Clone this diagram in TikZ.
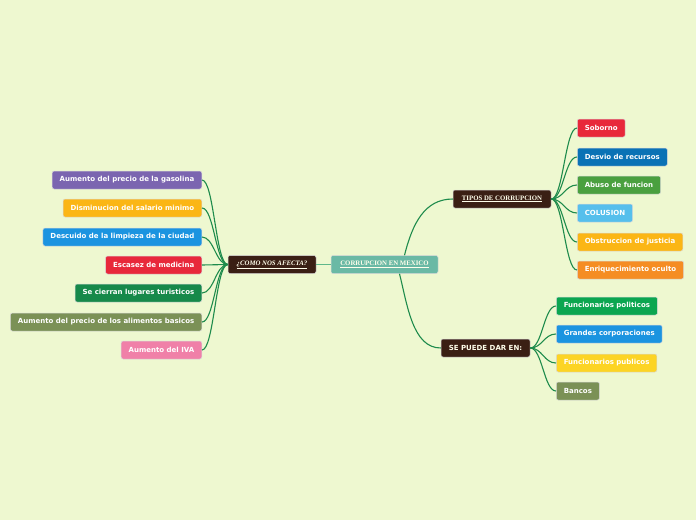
\documentclass[tikz,border=0pt]{standalone}
\usepackage{fontspec}
\setmainfont{DejaVu Sans}
\newfontfamily\hubfont{Liberation Serif}
\usetikzlibrary{positioning}
\definecolor{bgcolor}{HTML}{EEF8D0}
\definecolor{linkgreen}{HTML}{1E8B4C}
\definecolor{lightlink}{HTML}{5FB88A}
\definecolor{darkbrown}{HTML}{3A1F14}
\definecolor{tealbox}{HTML}{6AB9A5}
\definecolor{cpurple}{HTML}{7B65B0}
\definecolor{cyellow}{HTML}{FBB615}
\definecolor{cblue}{HTML}{1B94E0}
\definecolor{cred}{HTML}{E8283A}
\definecolor{cgreen}{HTML}{16894A}
\definecolor{colive}{HTML}{7B9156}
\definecolor{cpink}{HTML}{F080A8}
\definecolor{cnavy}{HTML}{0A72B5}
\definecolor{cgrass}{HTML}{4AA03F}
\definecolor{csky}{HTML}{56BFEC}
\definecolor{corange}{HTML}{F58D23}
\definecolor{cemerald}{HTML}{0BA650}
\definecolor{cgold}{HTML}{FCD424}
\tikzset{
  leaf/.style={draw=white!70!gray, line width=0.5pt, rounded corners=2pt, text=white, minimum height=18pt, inner xsep=7.5pt, inner ysep=0pt, font=\bfseries\fontsize{7}{8}\selectfont},
  hub/.style={draw=white!70!gray, line width=0.5pt, rounded corners=2pt, fill=darkbrown, text=white!92!yellow, minimum height=18pt, inner xsep=7pt, inner ysep=0pt, font=\hubfont\bfseries\fontsize{6.8}{8}\selectfont},
  branch/.style={draw=linkgreen, line width=1.1pt},
  stem/.style={draw=lightlink, line width=1.1pt}
}

\begin{document}
\begin{tikzpicture}[x=1pt, y=-1pt]
  \useasboundingbox[fill=bgcolor] (0,0) rectangle (696,520);

  % main topic and hubs
  \node[hub, fill=tealbox, minimum width=107pt] (centro) at (384.5,264.5) {\underline{CORRUPCION EN MEXICO}};
  \node[hub, minimum width=88pt] (afecta) at (272,264.5) {\textit{\underline{¿COMO NOS AFECTA?}}};
  \node[hub, minimum width=98pt] (tipos) at (502,199) {\underline{TIPOS DE CORRUPCION}};
  \node[hub, font=\bfseries\fontsize{7}{8}\selectfont, minimum width=89pt] (puede) at (485.5,348) {SE PUEDE DAR EN:};

  % effects
  \node[leaf, fill=cpurple, anchor=east] (gasolina) at (202,180) {Aumento del precio de la gasolina};
  \node[leaf, fill=cyellow, anchor=east] (salario) at (202,208) {Disminucion del salario minimo};
  \node[leaf, fill=cblue, anchor=east] (limpieza) at (202,237) {Descuido de la limpieza de la ciudad};
  \node[leaf, fill=cred, anchor=east] (medicina) at (202,265) {Escasez de medicina};
  \node[leaf, fill=cgreen, anchor=east] (turismo) at (202,293) {Se cierran lugares turisticos};
  \node[leaf, fill=colive, anchor=east] (alimentos) at (202,322) {Aumento del precio de los alimentos basicos};
  \node[leaf, fill=cpink, anchor=east] (iva) at (202,350) {Aumento del IVA};

  % types
  \node[leaf, fill=cred, anchor=west] (soborno) at (577,128) {Soborno};
  \node[leaf, fill=cnavy, anchor=west] (desvio) at (577,157) {Desvio de recursos};
  \node[leaf, fill=cgrass, anchor=west] (abuso) at (577,185) {Abuso de funcion};
  \node[leaf, fill=csky, anchor=west] (colusion) at (577,213) {COLUSION};
  \node[leaf, fill=cyellow, anchor=west] (obstruccion) at (577,242) {Obstruccion de justicia};
  \node[leaf, fill=corange, anchor=west] (enriquecimiento) at (577,270) {Enriquecimiento oculto};

  % where it happens
  \node[leaf, fill=cemerald, anchor=west] (politicos) at (556,306) {Funcionarios politicos};
  \node[leaf, fill=cblue, anchor=west] (corporaciones) at (556,334) {Grandes corporaciones};
  \node[leaf, fill=cgold, anchor=west] (publicos) at (556,363) {Funcionarios publicos};
  \node[leaf, fill=colive, anchor=west] (bancos) at (556,391) {Bancos};

  % connectors
  \draw[stem] (centro.west) -- (afecta.east);
  \draw[branch] ([xshift=20pt]centro.north) .. controls +(8,-32) and +(-28,0) .. (tipos.west);
  \draw[branch] ([xshift=15pt]centro.south) .. controls +(8,32) and +(-28,0) .. (puede.west);

  \foreach \leafname in {gasolina,salario,limpieza,medicina,turismo,alimentos,iva}
    \draw[branch] (afecta.west) .. controls +(-12,0) and +(12,0) .. (\leafname.east);
  \foreach \leafname in {soborno,desvio,abuso,colusion,obstruccion,enriquecimiento}
    \draw[branch] (tipos.east) .. controls +(12,0) and +(-12,0) .. (\leafname.west);
  \foreach \leafname in {politicos,corporaciones,publicos,bancos}
    \draw[branch] (puede.east) .. controls +(12,0) and +(-12,0) .. (\leafname.west);
\end{tikzpicture}
\end{document}
